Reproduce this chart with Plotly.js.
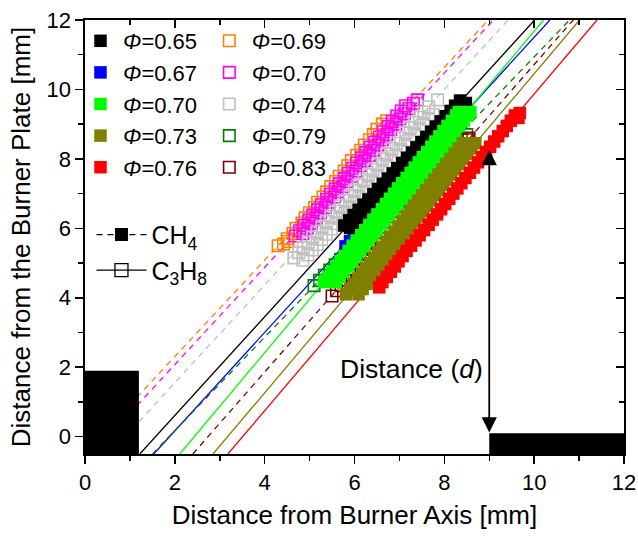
<!DOCTYPE html>
<html><head><meta charset="utf-8">
<script src="https://cdn.plot.ly/plotly-3.0.1.min.js"></script>
<style>html,body{margin:0;padding:0;background:#fff;}#chart{width:638px;height:538px;}</style>
</head><body><div id="chart"></div>
<script>
// ---------- data ----------
const ch4Phi  = ['0.65','0.67','0.70','0.73','0.76'];
const c3h8Phi = ['0.69','0.70','0.74','0.79','0.83'];

// CH4 series (filled squares)
const ch4_065_x = [5.77,5.88,5.98,6.09,6.20,6.31,6.42,6.52,6.63,6.74,6.85,6.95,7.06,7.17,7.28,7.38,7.49,7.60,7.71,7.81,7.92,8.03,8.14,8.24,8.35,
                   5.90,6.01,6.11,6.22,6.33,6.44,6.55,6.65,6.76,6.87,6.98,7.08,7.19,7.30,7.41,7.51,7.62,7.73,7.84,7.94,8.05,8.16,8.27,8.37,8.48];
const ch4_065_y = [6.08,6.23,6.38,6.53,6.68,6.83,6.98,7.13,7.28,7.43,7.58,7.73,7.88,8.03,8.18,8.33,8.48,8.63,8.78,8.93,9.08,9.23,9.38,9.53,9.68,
                   6.01,6.16,6.31,6.46,6.61,6.76,6.91,7.06,7.21,7.36,7.51,7.66,7.81,7.96,8.11,8.26,8.41,8.56,8.71,8.86,9.01,9.16,9.31,9.46,9.61];
const ch4_067_x = [5.80,5.90,5.99,6.09,6.18,6.28,6.38,6.47,6.57,6.66,6.76,6.86,6.95,7.05,7.14,7.24,7.34,7.43,7.53,7.62,7.72,7.82,7.91,8.01,8.10,8.20,8.25];
const ch4_067_y = [5.48,5.63,5.78,5.93,6.08,6.23,6.38,6.53,6.68,6.83,6.98,7.13,7.28,7.43,7.58,7.73,7.88,8.03,8.18,8.33,8.48,8.63,8.78,8.93,9.08,9.23,9.30];
const ch4_070_rows = [4.45,4.60,4.75,4.90,5.05,5.20,5.35,5.50,5.65,5.80,5.95,6.10,6.25,6.40,6.55,6.70,6.85,7.00,7.15,7.30,7.45,7.60,7.75,7.90,8.05,8.20,8.35,8.50,8.65,8.80,8.95,9.10,9.25,9.35];
const ch4_070_xl = [5.32,5.41,5.50,5.60,5.69,5.78,5.87,5.96,6.05,6.15,6.24,6.33,6.42,6.51,6.61,6.70,6.79,6.88,6.97,7.06,7.16,7.25,7.34,7.43,7.52,7.62,7.71,7.80,7.89,7.98,8.07,8.17,8.26,8.32];
const ch4_070_xr = [5.58,5.67,5.76,5.86,5.95,6.04,6.13,6.22,6.31,6.41,6.50,6.59,6.68,6.77,6.87,6.96,7.05,7.14,7.23,7.32,7.42,7.51,7.60,7.69,7.78,7.88,7.97,8.06,8.15,8.24,8.33,8.43,8.52,8.58];
const ch4_073_rows = [4.10,4.25,4.40,4.55,4.70,4.85,5.00,5.15,5.30,5.45,5.60,5.75,5.90,6.05,6.20,6.35,6.50,6.65,6.80,6.95,7.10,7.25,7.40,7.55,7.70,7.85,8.00,8.15,8.30,8.45];
const ch4_073_xl = [5.81,5.90,5.99,6.08,6.17,6.26,6.35,6.44,6.53,6.62,6.71,6.80,6.89,6.98,7.07,7.16,7.25,7.33,7.42,7.51,7.60,7.69,7.78,7.87,7.96,8.05,8.14,8.23,8.32,8.41];
const ch4_073_xr = [6.09,6.18,6.27,6.36,6.45,6.54,6.63,6.72,6.81,6.90,6.99,7.08,7.17,7.26,7.35,7.44,7.53,7.61,7.70,7.79,7.88,7.97,8.06,8.15,8.24,8.33,8.42,8.51,8.60,8.69];
const ch4_076_x = [6.55,6.62,6.72,6.81,6.90,6.98,7.07,7.16,7.26,7.36,7.45,7.55,7.65,7.74,7.84,7.93,8.02,8.11,8.20,8.29,8.38,8.47,8.57,8.66,8.75,8.84,8.93,9.02,9.11,9.20,9.30,9.39,9.48,9.57,9.65,9.68];
const ch4_076_y = [4.30,4.45,4.60,4.75,4.90,5.05,5.20,5.35,5.50,5.65,5.80,5.95,6.10,6.25,6.40,6.55,6.70,6.85,7.00,7.15,7.30,7.45,7.60,7.75,7.90,8.05,8.20,8.35,8.50,8.65,8.80,8.95,9.10,9.25,9.18,9.32];

// C3H8 series (open squares)
const c3h8_069_x = [4.30,4.52,4.42,4.50,4.63,4.70,4.83,4.90,5.00,5.11,5.18,5.30,5.38,5.47,5.58,5.66,5.77,5.85,5.93,6.05,6.14,6.22,6.33,6.42,6.50,6.62,6.72];
const c3h8_069_y = [5.50,5.62,5.55,5.70,5.85,6.00,6.15,6.30,6.45,6.60,6.75,6.90,7.05,7.20,7.35,7.50,7.65,7.80,7.95,8.10,8.25,8.40,8.55,8.70,8.85,9.00,9.10];
const c3h8_070_x = [4.85,4.95,5.04,5.15,5.24,5.35,5.43,5.55,5.63,5.74,5.83,5.94,6.03,6.13,6.22,6.33,6.42,6.52,6.62,6.72,6.81,6.92,7.01,7.11,7.21,7.31,7.40,
                    4.68,4.78,4.87,4.98,5.07,5.18,5.26,5.38,5.46,5.57,5.66,5.77,5.86,5.96,6.05,6.16,6.25,6.35,6.45,6.55,6.64,6.75,6.84,6.94,7.04,7.14];
const c3h8_070_y = [5.85,6.00,6.15,6.30,6.45,6.60,6.75,6.90,7.05,7.20,7.35,7.50,7.65,7.80,7.95,8.10,8.25,8.40,8.55,8.70,8.85,9.00,9.15,9.30,9.45,9.60,9.70,
                    5.78,5.93,6.08,6.23,6.38,6.53,6.68,6.83,6.98,7.13,7.28,7.43,7.58,7.73,7.88,8.03,8.18,8.33,8.48,8.63,8.78,8.93,9.08,9.23,9.38,9.53];
const c3h8_074_x = [4.65,4.76,4.86,4.97,5.07,5.17,5.28,5.38,5.48,5.59,5.69,5.79,5.90,6.00,6.10,6.21,6.31,6.41,6.52,6.62,6.72,6.83,6.93,7.03,7.14,7.24,7.34,7.45,7.55,7.65,7.85,
                    4.85,4.96,5.06,5.17,5.27,5.37,5.48,5.58,5.68,5.79,5.89,5.99,6.10,6.20,6.30,6.41,6.51,6.61,6.72,6.82,6.92,7.03,7.13,7.23,7.34,7.44,7.54,7.65,7.75];
const c3h8_074_y = [5.15,5.30,5.45,5.60,5.75,5.90,6.05,6.20,6.35,6.50,6.65,6.80,6.95,7.10,7.25,7.40,7.55,7.70,7.85,8.00,8.15,8.30,8.45,8.60,8.75,8.90,9.05,9.20,9.35,9.50,9.70,
                    5.08,5.23,5.38,5.53,5.68,5.83,5.98,6.13,6.28,6.43,6.58,6.73,6.88,7.03,7.18,7.33,7.48,7.63,7.78,7.93,8.08,8.23,8.38,8.53,8.68,8.83,8.98,9.13,9.28];
const c3h8_079_x = [5.10,5.22,5.33,5.45,5.57,5.69,5.80,5.92,6.04,6.15,6.27,6.39,6.51,6.62,6.74,6.86,6.98,7.09,7.21,7.33,7.44,7.56,7.68,7.80,7.91,8.03,8.15,8.27,8.38,8.50];
const c3h8_079_y = [4.35,4.50,4.65,4.80,4.95,5.10,5.25,5.40,5.55,5.70,5.85,6.00,6.15,6.30,6.45,6.60,6.75,6.90,7.05,7.20,7.35,7.50,7.65,7.80,7.95,8.10,8.25,8.40,8.55,8.70];
const c3h8_083_x = [5.50,5.60,5.70,5.80,5.90,6.00,6.10,6.20,6.30,6.40,6.51,6.61,6.71,6.81,6.91,7.01,7.11,7.21,7.31,7.41,7.51,7.61,7.71,7.81,7.91,8.01,8.11,8.21,8.31,8.41,8.51,8.55];
const c3h8_083_y = [4.05,4.20,4.35,4.50,4.65,4.80,4.95,5.10,5.25,5.40,5.55,5.70,5.85,6.00,6.15,6.30,6.45,6.60,6.75,6.90,7.05,7.20,7.35,7.50,7.65,7.80,7.95,8.10,8.25,8.40,8.55,8.60];

// fitted lines: x where each line meets y = -0.5 and y = 12
const fitY = [-0.5, 12];
const ch4FitX  = [[1.22,10.01],[1.53,10.35],[2.11,10.21],[2.85,11.01],[3.18,11.40]];
const c3h8FitX = [[-0.02,8.98],[0.16,9.09],[0.54,9.42],[1.50,10.79],[2.40,10.87]];

// burner plates and distance marker
const plateLeftX = [0, 1.2],  plateLeftY = [-0.5, 1.9];
const plateRightX = [9, 12],  plateRightY = [-0.5, 0.1];
const distArrowX = 9, distArrowY = [0.12, 8.3];
const distLabel = {x: 7.27, y: 1.96, text: 'Distance (<i>d</i>)'};

// ---------- styles ----------
const ch4Colors  = ['#000000','#0000FF','#00FF00','#808000','#FF0000'];
const c3h8Colors = ['#FF8000','#FF00FF','#C0C0C0','#008000','#800000'];
const FONT = 'Arial, "Liberation Sans", sans-serif';

const ch4Data = [
  {x: ch4_065_x, y: ch4_065_y},
  {x: ch4_067_x, y: ch4_067_y},
  {x: ch4_070_xl.concat(ch4_070_xr), y: ch4_070_rows.concat(ch4_070_rows)},
  {x: ch4_073_xl.concat(ch4_073_xr), y: ch4_073_rows.concat(ch4_073_rows)},
  {x: ch4_076_x, y: ch4_076_y}
];
const c3h8Data = [
  {x: c3h8_069_x, y: c3h8_069_y},
  {x: c3h8_070_x, y: c3h8_070_y},
  {x: c3h8_074_x, y: c3h8_074_y},
  {x: c3h8_079_x, y: c3h8_079_y},
  {x: c3h8_083_x, y: c3h8_083_y}
];

const traces = [];
ch4FitX.forEach((fx, i) => traces.push({x: fx, y: fitY, mode: 'lines', showlegend: false, hoverinfo: 'skip',
  line: {color: ch4Colors[i], width: 1.3}}));
c3h8FitX.forEach((fx, i) => traces.push({x: fx, y: fitY, mode: 'lines', showlegend: false, hoverinfo: 'skip',
  line: {color: c3h8Colors[i], width: 1.3, dash: '6px,5px'}}));

function c3h8Trace(i) {
  return {x: c3h8Data[i].x, y: c3h8Data[i].y, mode: 'markers', type: 'scatter',
    name: '<i>Φ</i>=' + c3h8Phi[i], legend: 'legend2', legendrank: i + 1,
    marker: {symbol: 'square-open', size: 11.5, color: c3h8Colors[i], line: {width: 1.6, color: c3h8Colors[i]}}};
}
function ch4Trace(i) {
  return {x: ch4Data[i].x, y: ch4Data[i].y, mode: 'markers', type: 'scatter',
    name: '<i>Φ</i>=' + ch4Phi[i], legend: 'legend', legendrank: i + 1,
    marker: {symbol: 'square', size: 12.5, color: ch4Colors[i], line: {width: 0}}};
}
[0,1,2,3,4].forEach(i => traces.push(c3h8Trace(i)));
traces.push(ch4Trace(1));
traces.push(ch4Trace(0));
traces.push(ch4Trace(2));
traces.push(ch4Trace(3));
traces.push(ch4Trace(4));

traces.push({x: [null], y: [null], mode: 'lines+markers', name: 'CH<sub>4</sub>', legend: 'legend3', legendrank: 1,
  line: {color: '#000', width: 1.3, dash: '6px,5px'}, marker: {symbol: 'square', size: 13, color: '#000'}});
traces.push({x: [null], y: [null], mode: 'lines+markers', name: 'C<sub>3</sub>H<sub>8</sub>', legend: 'legend3', legendrank: 2,
  line: {color: '#000', width: 1.3}, marker: {symbol: 'square-open', size: 13, color: '#000', line: {width: 1.3, color: '#000'}}});
traces.push({x: [null], y: [null], xaxis: 'x2', yaxis: 'y2', mode: 'markers', showlegend: false, hoverinfo: 'skip'});

const axBase = {showline: true, linewidth: 1.6, linecolor: '#000', showgrid: false, zeroline: false,
  tickcolor: '#000', tickwidth: 1.5, ticklen: 8, dtick: 2, tick0: 0, tickfont: {size: 22, family: FONT, color: '#000'}};
const minorOut = {dtick: 1, ticks: 'outside', ticklen: 5, tickwidth: 1.5, tickcolor: '#000', showgrid: false};
const minorIn  = {dtick: 1, ticks: 'inside',  ticklen: 5, tickwidth: 1.5, tickcolor: '#000', showgrid: false};

const legBase = {xanchor: 'left', yanchor: 'top', bgcolor: 'rgba(0,0,0,0)', borderwidth: 0,
  font: {size: 22, family: FONT, color: '#000'}, tracegroupgap: 0, itemclick: false, itemdoubleclick: false};

const layout = {
  width: 638, height: 538,
  margin: {l: 85, r: 14, t: 20, b: 84},
  paper_bgcolor: '#fff', plot_bgcolor: '#fff',
  font: {family: FONT, color: '#000', size: 22},
  showlegend: true,
  xaxis: Object.assign({}, axBase, {range: [0, 12], ticks: 'outside', anchor: 'y', minor: minorOut,
    title: {text: 'Distance from Burner Axis [mm]', font: {size: 26, family: FONT}, standoff: 12}}),
  yaxis: Object.assign({}, axBase, {range: [-0.5, 12], ticks: 'outside', anchor: 'x', minor: minorOut,
    title: {text: 'Distance from the Burner Plate [mm]', font: {size: 26, family: FONT}, standoff: 8}}),
  xaxis2: Object.assign({}, axBase, {range: [0, 12], ticks: 'inside', overlaying: 'x', side: 'top', anchor: 'y2',
    showticklabels: false, minor: minorIn}),
  yaxis2: Object.assign({}, axBase, {range: [-0.5, 12], ticks: 'inside', overlaying: 'y', side: 'right', anchor: 'x2',
    showticklabels: false, minor: minorIn}),
  legend:  Object.assign({}, legBase, {x: -0.013, y: 1.0, itemwidth: 35}),
  legend2: Object.assign({}, legBase, {x: 0.226, y: 1.0, itemwidth: 35}),
  legend3: Object.assign({}, legBase, {x: 0.012, y: 0.558, itemwidth: 50, font: {size: 25, family: FONT, color: '#000'}}),
  shapes: [
    {type: 'rect', xref: 'x', yref: 'y', x0: plateLeftX[0], x1: plateLeftX[1], y0: plateLeftY[0], y1: plateLeftY[1],
      fillcolor: '#000', line: {width: 0}, layer: 'above'},
    {type: 'rect', xref: 'x', yref: 'y', x0: plateRightX[0], x1: plateRightX[1], y0: plateRightY[0], y1: plateRightY[1],
      fillcolor: '#000', line: {width: 0}, layer: 'above'}
  ],
  annotations: [
    {x: distArrowX, y: distArrowY[0], ax: distArrowX, ay: distArrowY[1], xref: 'x', yref: 'y', axref: 'x', ayref: 'y',
      text: '', showarrow: true, arrowhead: 2, startarrowhead: 2, arrowside: 'end+start',
      arrowsize: 1.7, startarrowsize: 1.7, arrowwidth: 1.8, arrowcolor: '#000', standoff: 0, startstandoff: 0},
    {x: distLabel.x, y: distLabel.y, xref: 'x', yref: 'y', text: distLabel.text, showarrow: false,
      font: {size: 26.5, family: FONT, color: '#000'}}
  ]
};

Plotly.newPlot('chart', traces, layout, {staticPlot: true, displayModeBar: false});
</script></body></html>
